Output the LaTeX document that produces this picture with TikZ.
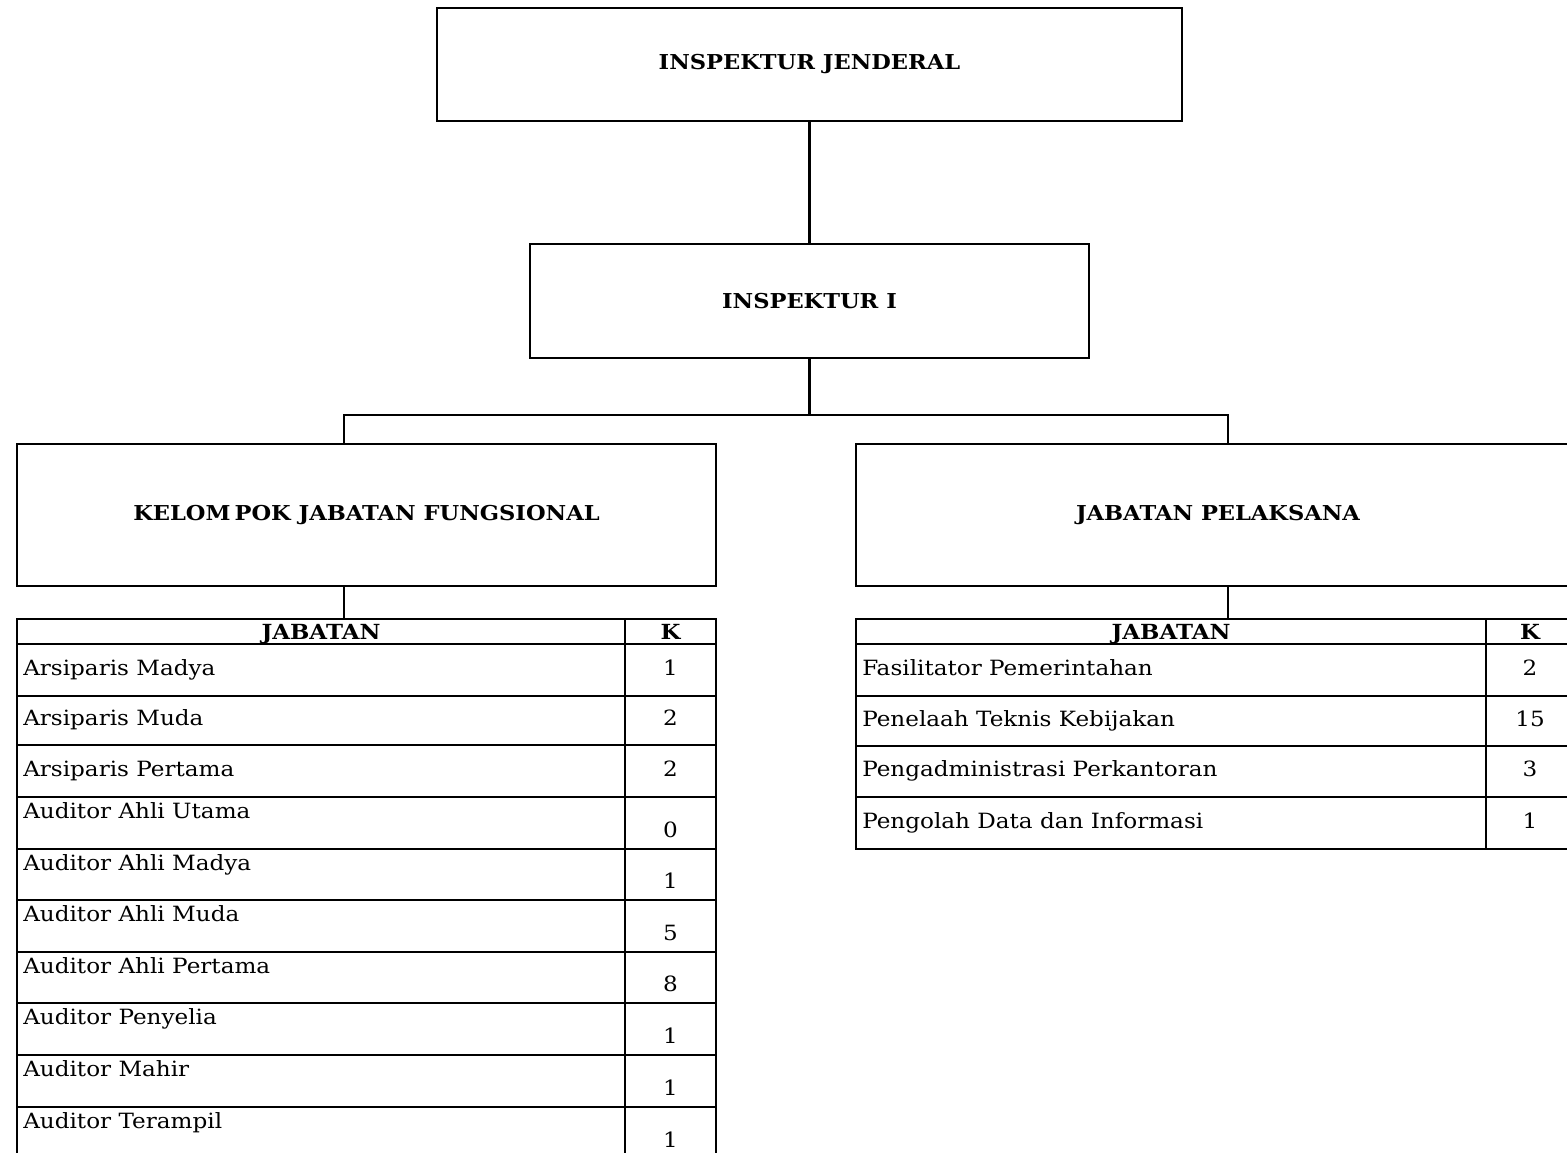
\documentclass[tikz,border=0pt]{standalone}
\usepackage{fontspec}
\setmainfont{DejaVu Serif}[FakeStretch=1.1]
\begin{document}
\begin{tikzpicture}[x=0.5pt,y=-0.5pt,
  line width=1.25pt,
  orgbox/.style={draw,rectangle,inner sep=0pt,outer sep=0pt,font=\fontsize{10.25}{12}\selectfont\bfseries},
  hdcell/.style={draw,rectangle,inner sep=0pt,outer sep=0pt,minimum height=12.5pt},
  hdtxt/.style={inner sep=0pt,anchor=mid,font=\fontsize{10.4}{12}\selectfont\bfseries},
  celltxt/.style={inner sep=0pt,anchor=mid west,font=\fontsize{10.5}{12}\selectfont},
  cellnum/.style={inner sep=0pt,anchor=mid,font=\fontsize{10.5}{12}\selectfont}]
\path[use as bounding box,clip] (0,0) rectangle (1567,1152);
\fill[white] (0,0) rectangle (1567,1152);

% org boxes
\node[orgbox,minimum width=372.5pt,minimum height=56.5pt] (ij) at (809.5,64.5) {INSPEKTUR JENDERAL};
\node[orgbox,minimum width=279.5pt,minimum height=57pt] (i1) at (809.5,301) {INSPEKTUR I};
\node[orgbox,minimum width=349.5pt,minimum height=71pt] (kjf) at (366.5,515) {KELOM\kern2pt POK JABATAN FUNGSIONAL};
\node[orgbox,minimum width=362pt,minimum height=71pt] (jp) at (1218,515) {JABATAN PELAKSANA};

% connector coordinates
\coordinate (bus) at (809.5,415);
\coordinate (cL) at (344,0);
\coordinate (cR) at (1228,0);

\draw (ij.south) -- (i1.north);
\draw (i1.south) -- (bus);
\draw (kjf.north -| cL) |- (bus) -| (jp.north -| cR);

% table headers
\node[hdcell,minimum width=304pt,anchor=north west] (lhA) at (17,619) {};
\node[hdcell,minimum width=45.5pt,anchor=north west] (lhK) at (625,619) {};
\node[hdcell,minimum width=315pt,anchor=north west] (rhA) at (856,619) {};
\node[hdcell,minimum width=44pt,anchor=north west] (rhK) at (1486,619) {};
\node[hdtxt] (lhAt) at ([yshift=-1.2pt]lhA.center) {JABATAN};
\node[hdtxt] (lhKt) at ([yshift=-1.2pt]lhK.center) {K};
\node[hdtxt] (rhAt) at ([yshift=-1.2pt]rhA.center) {JABATAN};
\node[hdtxt] (rhKt) at ([yshift=-1.2pt]rhK.center) {K};

\draw (kjf.south -| cL) -- (lhA.north -| cL);
\draw (jp.south -| cR) -- (rhA.north -| cR);

% left table rows: text / number / top / bottom / text y / number y
\foreach \t/\k/\top/\bot/\ty/\ky [count=\i] in {
  Arsiparis Madya/1/644/696/670/670,
  Arsiparis Muda/2/696/745/720.5/720.5,
  Arsiparis Pertama/2/745/797/771/771,
  Auditor Ahli Utama/0/797/849/813/832,
  Auditor Ahli Madya/1/849/900/865/883,
  Auditor Ahli Muda/5/900/952/916/935,
  Auditor Ahli Pertama/8/952/1003/968/986,
  Auditor Penyelia/1/1003/1055/1019/1038,
  Auditor Mahir/1/1055/1107/1071/1090,
  Auditor Terampil/1/1107/1160/1123/1142}{
  \draw (17,\top) rectangle (625,\bot);
  \draw (625,\top) rectangle (716,\bot);
  \node[celltxt] (lt\i) at (22,\ty) {\t};
  \node[cellnum] (lk\i) at (670.5,\ky) {\k};
}

% right table rows
\foreach \t/\k/\top/\bot/\ty [count=\i] in {
  Fasilitator Pemerintahan/2/644/696/670,
  Penelaah Teknis Kebijakan/15/696/746/721,
  Pengadministrasi Perkantoran/3/746/797/771.5,
  Pengolah Data dan Informasi/1/797/849/823}{
  \draw (856,\top) rectangle (1486,\bot);
  \draw (1486,\top) rectangle (1574,\bot);
  \node[celltxt] (rt\i) at (861,\ty) {\t};
  \node[cellnum] (rk\i) at (1530,\ty) {\k};
}
\end{tikzpicture}
\end{document}
